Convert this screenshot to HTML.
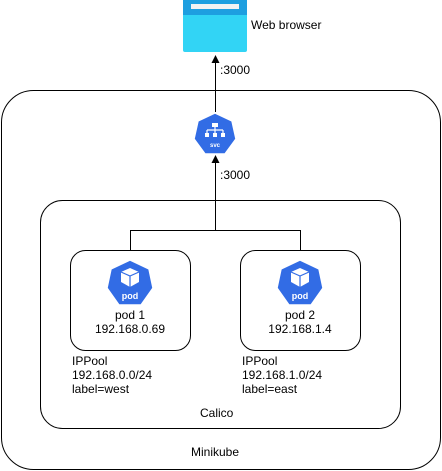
<!DOCTYPE html>
<html><head><style>
body{margin:0;background:#fff;width:442px;height:471px;overflow:hidden;position:relative;font-family:"Liberation Sans",Arial,sans-serif;font-size:12px;color:#000}
.t{position:absolute;white-space:nowrap;line-height:14px}
</style></head><body>
<svg width="442" height="471" style="position:absolute;left:0;top:0">
<defs>
<linearGradient id="g" x1="0" y1="0" x2="0" y2="1"><stop offset="0" stop-color="#32d4f5"/><stop offset="1" stop-color="#198ab3" stop-opacity="0"/></linearGradient>
</defs>
<rect x="1.5" y="90.5" width="439" height="379" rx="32" fill="#fff" stroke="#000"/>
<rect x="40.5" y="200.5" width="360" height="228" rx="22" fill="#fff" stroke="#000"/>
<rect x="70.5" y="250.5" width="120" height="100" rx="15" fill="#fff" stroke="#000"/>
<rect x="240.5" y="250.5" width="120" height="100" rx="15" fill="#fff" stroke="#000"/>
<!-- browser -->
<rect x="183" y="0" width="64" height="52" rx="2" fill="#32d4f5"/>
<rect x="183" y="0" width="64" height="15" fill="#1e9fe0"/>
<rect x="191" y="4" width="48" height="5" fill="#f2f2f2"/>
<!-- connectors -->
<path d="M130.5 250V230.5H300.5V250M215.5 230V162M215.5 112V62" stroke="#000" fill="none"/>
<path d="M215.5 155l-4 8h8z M215.5 55l-4 8h8z" fill="#000"/>
<!-- svc -->
<g transform="translate(215,135)">
<polygon points="0,-22 17,-14 21,4 10,19 -10,19 -21,4 -17,-14" fill="#326ce5" stroke="#fff" stroke-width="1.5"/>
<rect x="-3" y="-12" width="6" height="4" fill="#fff"/>
<path d="M0 -8V-5M-8 -5H8M-8 -5V-2M0 -5V-2M8 -5V-2" stroke="#fff" stroke-width="1.2"/>
<rect x="-10" y="-2" width="4" height="4" fill="#fff"/><rect x="-2" y="-2" width="4" height="4" fill="#fff"/><rect x="6" y="-2" width="4" height="4" fill="#fff"/>
<text x="0" y="12" font-size="6" font-weight="bold" fill="#fff" text-anchor="middle" font-family="Liberation Sans">svc</text>
</g>
<!-- pods -->
<g transform="translate(130,284)">
<polygon points="0,-24 19,-15 23,4 11,21 -11,21 -23,4 -19,-15" fill="#326ce5" stroke="#fff" stroke-width="1.5"/>
<path d="M0 -16 L9 -12 V-2 L0 3 L-9 -2 V-12Z" fill="#fff"/>
<path d="M-9 -12L0 -8L9 -12M0 -8V3" stroke="#326ce5" stroke-width="1.2" fill="none"/>
<text x="0" y="15" font-size="9" font-weight="bold" fill="#fff" text-anchor="middle" font-family="Liberation Sans">pod</text>
</g>
<g transform="translate(300,284)">
<polygon points="0,-24 19,-15 23,4 11,21 -11,21 -23,4 -19,-15" fill="#326ce5" stroke="#fff" stroke-width="1.5"/>
<path d="M0 -16 L9 -12 V-2 L0 3 L-9 -2 V-12Z" fill="#fff"/>
<path d="M-9 -12L0 -8L9 -12M0 -8V3" stroke="#326ce5" stroke-width="1.2" fill="none"/>
<text x="0" y="15" font-size="9" font-weight="bold" fill="#fff" text-anchor="middle" font-family="Liberation Sans">pod</text>
</g>
</svg>
<div class="t" style="left:251px;top:18px">Web browser</div>
<div class="t" style="left:220px;top:63px">:3000</div>
<div class="t" style="left:220px;top:168px">:3000</div>
<div class="t" style="left:70px;top:308px;width:120px;text-align:center">pod 1<br>192.168.0.69</div>
<div class="t" style="left:240px;top:308px;width:120px;text-align:center">pod 2<br>192.168.1.4</div>
<div class="t" style="left:72px;top:354px">IPPool<br>192.168.0.0/24<br>label=west</div>
<div class="t" style="left:242px;top:354px">IPPool<br>192.168.1.0/24<br>label=east</div>
<div class="t" style="left:200px;top:406px">Calico</div>
<div class="t" style="left:191px;top:445px">Minikube</div>
</body></html>
